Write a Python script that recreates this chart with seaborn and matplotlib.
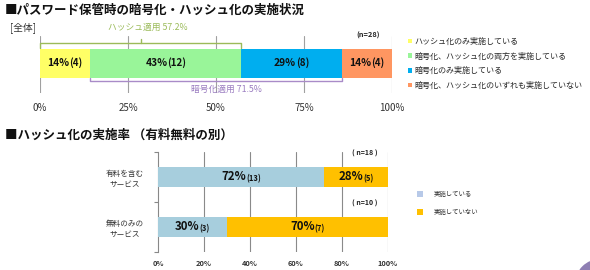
import matplotlib
matplotlib.use("Agg")
import matplotlib.pyplot as plt
import matplotlib.transforms as mtransforms
from matplotlib.patches import Circle, Patch
import seaborn as sns
import pandas as pd

# ---------------- data ----------------
top_labels = ["ハッシュ化のみ実施している",
              "暗号化、ハッシュ化の両方を実施している",
              "暗号化のみ実施している",
              "暗号化、ハッシュ化のいずれも実施していない"]
top_values = [14.3, 42.9, 28.6, 14.3]
top_counts = [4, 12, 8, 4]
top_colors = ["#FFFF66", "#99F599", "#00AEEF", "#FF9661"]
top_ticks = [0, 25, 50, 75, 100]

bot_categories = ["有料を含む\nサービス", "無料のみの\nサービス"]
bot_done = [72.2, 30.0]
bot_not = [27.8, 70.0]
bot_done_counts = [13, 3]
bot_not_counts = [5, 7]
bot_n = [18, 10]
bot_series = ["実施している", "実施していない"]
bot_colors = ["#A7CEDD", "#FFC000"]
bot_legend_colors = ["#B7C9E8", "#FFC000"]
bot_ticks = [0, 20, 40, 60, 80, 100]

W, H, DPI = 590, 270, 100
sns.set_theme(style="white")
plt.rcParams["font.family"] = ["Noto Sans CJK JP", "DejaVu Sans"]

fig = plt.figure(figsize=(W / DPI, H / DPI), dpi=DPI)
fig.patch.set_facecolor("white")


def fx(x):
    return x / W


def fy(y):
    return 1 - y / H


def axes_rect(x0, y0, x1, y1):
    return [fx(x0), fy(y1), fx(x1) - fx(x0), (y1 - y0) / H]


# ---------------- top chart ----------------
ax1 = fig.add_axes(axes_rect(40, 36, 392, 93))
cum = []
s = 0
for v in top_values:
    s += v
    cum.append(s)

df_top = pd.DataFrame({"row": ["all"] * len(top_values), "cum": cum})
for i in reversed(range(len(top_values))):
    sns.barplot(data=df_top.iloc[[i]], x="cum", y="row", orient="h",
                color=top_colors[i], width=0.5, ax=ax1,
                linewidth=0, saturation=1, zorder=2)
ax1.set_xlim(0, 100)
ax1.set_ylim(0.509, -0.474)
ax1.set_xticks(top_ticks)
ax1.set_xticklabels([f"{t}%" for t in top_ticks], fontsize=7, color="#333333")
ax1.set_yticks([])
ax1.set_ylabel("")
ax1.set_xlabel("")
ax1.tick_params(axis="x", length=0, pad=7)
for sp in ax1.spines.values():
    sp.set_visible(False)
for t in top_ticks:
    ax1.axvline(t, color="#A0A0A0", lw=0.8, zorder=1)

texts_to_center = []


def two_part(ax, x, y, big, small, bsize, ssize, bweight="bold", sweight="bold"):
    t1 = ax.text(x, y, big, fontsize=bsize, weight=bweight, ha="left",
                 va="center", color="#111111", zorder=5)
    t2 = ax.annotate(small, xy=(1, 0), xycoords=t1, ha="left", va="bottom",
                     fontsize=ssize, weight=sweight, color="#111111", zorder=5)
    texts_to_center.append((ax, t1, t2, x, y))


for i, v in enumerate(top_values):
    center = cum[i] - v / 2
    two_part(ax1, center, 0, f"{round(v)}%", f"({top_counts[i]})", 7.4, 7.0)

# brackets
hash_applied = top_values[0] + top_values[1]
enc_applied = top_values[1] + top_values[2]
trans1 = mtransforms.blended_transform_factory(ax1.transData, ax1.transAxes)
gcol = "#9BBB59"
ax1.plot([0, 0, hash_applied, hash_applied], [0.79, 0.877, 0.877, 0.79],
         color=gcol, lw=1.0, transform=trans1, clip_on=False, zorder=3)
ax1.plot([hash_applied / 2] * 2, [0.877, 0.94], color=gcol, lw=1.0,
         transform=trans1, clip_on=False, zorder=3)
ax1.text(hash_applied / 2 + 2, 1.16, f"ハッシュ適用 {hash_applied:.1f}%",
         transform=trans1, ha="center", va="center", fontsize=6.3, color="#9BBB59")
pcol = "#A98BC8"
x0 = top_values[0]
x1 = top_values[0] + enc_applied
ax1.plot([x0, x0, x1, x1], [0.27, 0.21, 0.21, 0.27], color=pcol, lw=1.0,
         transform=trans1, clip_on=False, zorder=3)
ax1.text((x0 + x1) / 2 + 3, 0.07, f"暗号化適用 {enc_applied:.1f}%",
         transform=trans1, ha="center", va="center", fontsize=6.3, color="#9A7CC0")

h1 = [Patch(facecolor=c, edgecolor="none") for c in top_colors]
fig.legend(h1, top_labels,
           loc="upper left", bbox_to_anchor=(fx(408), fy(37)),
           frameon=False, fontsize=5.8, handlelength=0.5,
           handleheight=0.5, handletextpad=0.3, labelspacing=0.7,
           borderpad=0, borderaxespad=0)

fig.text(fx(5), fy(10), "■パスワード保管時の暗号化・ハッシュ化の実施状況",
         fontsize=9, weight="bold", ha="left", va="center", color="#111111")
fig.text(fx(10), fy(28), "[全体]", fontsize=7, ha="left", va="center",
         color="#333333")
fig.text(fx(368), fy(35), "(n=28)", fontsize=5.3, weight="bold", ha="center",
         va="center", color="#222222")

# ---------------- bottom chart ----------------
ax2 = fig.add_axes(axes_rect(158, 152, 388, 252))
df_bot = pd.DataFrame({"cat": bot_categories, "done": bot_done,
                       "total": [a + b for a, b in zip(bot_done, bot_not)]})
sns.barplot(data=df_bot, x="total", y="cat", orient="h", color=bot_colors[1],
            width=0.4, ax=ax2, linewidth=0, saturation=1, zorder=2)
sns.barplot(data=df_bot, x="done", y="cat", orient="h", color=bot_colors[0],
            width=0.4, ax=ax2, linewidth=0, saturation=1, zorder=3)
ax2.set_xlim(0, 100)
ax2.set_ylim(1.5, -0.5)
ax2.set_xticks(bot_ticks)
ax2.set_xticklabels([f"{t}%" for t in bot_ticks], fontsize=5.3,
                    color="#333333", weight="bold")
ax2.tick_params(axis="x", length=0, pad=6)
ax2.set_yticks([0, 1])
ax2.set_yticklabels(bot_categories, fontsize=5.5, color="#333333",
                    multialignment="center", linespacing=1.5)
ax2.set_yticks([-0.5, 0.5, 1.5], minor=True)
ax2.tick_params(axis="y", which="major", length=0, pad=10)
ax2.tick_params(axis="y", which="minor", length=3, width=0.8,
                color="#888888", left=True)
ax2.set_xlabel("")
ax2.set_ylabel("")
for k, sp in ax2.spines.items():
    sp.set_visible(k == "left")
ax2.spines["left"].set_color("#888888")
ax2.spines["left"].set_linewidth(0.8)
for t in bot_ticks[1:]:
    ax2.axvline(t, color="#8A8A8A", lw=0.8, zorder=1)

for i in range(len(bot_categories)):
    two_part(ax2, bot_done[i] / 2, i, f"{round(bot_done[i])}%",
             f"({bot_done_counts[i]})", 8.3, 5.5, "bold", "bold")
    two_part(ax2, bot_done[i] + bot_not[i] / 2, i, f"{round(bot_not[i])}%",
             f"({bot_not_counts[i]})", 8.3, 5.5, "bold", "bold")

for i, n in enumerate(bot_n):
    ax2.text(90, i - 0.47, f"( n={n} )", ha="center", va="center",
             fontsize=5, weight="bold", color="#222222", clip_on=False)

h2 = [Patch(facecolor=c, edgecolor="none") for c in bot_legend_colors]
fig.legend(h2, bot_series, loc="upper left",
           bbox_to_anchor=(fx(417), fy(190)), frameon=False, fontsize=4.6,
           handlelength=1.0, handleheight=1.0, handletextpad=1.6,
           labelspacing=1.6, borderpad=0, borderaxespad=0)

fig.text(fx(5), fy(135), "■ハッシュ化の実施率 （有料無料の別）",
         fontsize=9, weight="bold", ha="left", va="center", color="#111111")

# decorative page circle (pixel-sized, in inches)
fig.patches.append(Circle((600 / DPI, (H - 284) / DPI), 25 / DPI,
                          transform=fig.dpi_scale_trans,
                          facecolor="#8F7FB3", edgecolor="none"))

# center two-part labels
fig.canvas.draw()
r = fig.canvas.get_renderer()
for ax, t1, t2, x, y in texts_to_center:
    w = t1.get_window_extent(r).width + t2.get_window_extent(r).width
    off = mtransforms.ScaledTranslation(-w / 2 / DPI, 0, fig.dpi_scale_trans)
    t1.set_transform(ax.transData + off)

fig.savefig("out.png", dpi=DPI, facecolor="white")
